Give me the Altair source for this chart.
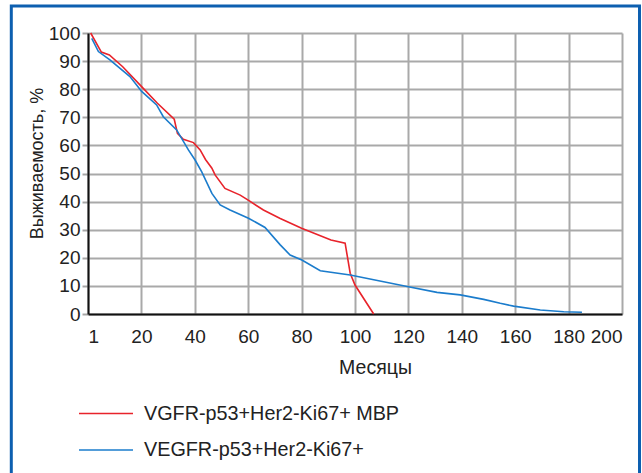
import altair as alt
import pandas as pd

# Series names
series_names = ["VGFR-p53+Her2-Ki67+ MBP", "VEGFR-p53+Her2-Ki67+"]
series_colors = ["#e8232b", "#1b7ccc"]

# Red series (months, survival %)
red_months = [1, 5, 8, 13, 20.7, 26, 32.3, 33.5, 35.7, 39.5, 42, 44, 46.4, 47.6, 51.3, 57, 60, 65.7, 72, 80, 91, 96.3, 98.2, 100, 107]
red_surv = [100, 93.2, 92.2, 88, 80.3, 75, 69.3, 64.3, 62.2, 61, 58.4, 55, 51.9, 49.5, 44.7, 42.3, 40.5, 37, 34, 30.5, 26.3, 25.2, 14.5, 10.3, 0]

# Blue series (months, survival %)
blue_months = [1.4, 3.9, 8.2, 15.7, 20.1, 25.7, 28.2, 33.2, 37.6, 40.1, 42.6, 46.4, 49.5, 53.2, 60.1, 66.3, 72, 75.7, 80.1, 87, 98.2, 120, 130.7, 139.4, 148.2, 154.4, 159.4, 169.4, 178.2, 185]
blue_surv = [98.1, 93.4, 90.4, 84.5, 79.2, 74.4, 70.2, 65.5, 58.4, 54.8, 50.6, 42.9, 38.8, 37, 34.1, 30.8, 24.6, 21, 19.2, 15.4, 13.9, 9.7, 7.7, 6.8, 5.2, 3.8, 2.8, 1.4, 0.8, 0.6]

x_ticks = list(range(0, 201, 20))
y_ticks = list(range(0, 101, 10))

FONT = "'Liberation Sans', Arial, sans-serif"

rows = []
for i, (m, v) in enumerate(zip(red_months, red_surv)):
    rows.append({"month": m, "surv": v, "series": series_names[0], "idx": i})
for i, (m, v) in enumerate(zip(blue_months, blue_surv)):
    rows.append({"month": m, "surv": v, "series": series_names[1], "idx": i})
df = pd.DataFrame(rows)

lines = alt.Chart(df).mark_line(strokeWidth=1.6).encode(
    x=alt.X(
        "month:Q",
        scale=alt.Scale(domain=[0, 200], nice=False, zero=False),
        axis=alt.Axis(
            values=x_ticks,
            labelExpr="datum.value == 0 ? '1' : datum.label",
            title="Месяцы",
            titleX=287, titleY=59, titleAlign="center", titleBaseline="alphabetic",
            ticks=False, tickSize=0, labelPadding=13,
            labelFontSize=19, titleFontSize=19.5,
        ),
    ),
    y=alt.Y(
        "surv:Q",
        scale=alt.Scale(domain=[0, 100], nice=False),
        axis=alt.Axis(
            values=y_ticks,
            title="Выживаемость, %",
            titleX=-46, titleY=163 - 33, titleAngle=270, titleAlign="center", titleBaseline="alphabetic",
            tickSize=6, tickColor="#a6a6a6", tickWidth=2, labelPadding=2,
            labelFontSize=19, titleFontSize=18,
        ),
    ),
    color=alt.Color(
        "series:N",
        scale=alt.Scale(domain=series_names, range=series_colors),
        legend=alt.Legend(
            title=None, orient="none", legendX=3.5, legendY=366, direction="vertical",
            symbolType="M-2,0H2", symbolSize=729, symbolStrokeWidth=1.6,
            labelFontSize=19.8, labelOffset=23.5, rowPadding=11.5, padding=0,
            labelColor="#222222", labelFont=FONT, labelLimit=400,
        ),
    ),
    order="idx:Q",
)

border = alt.Chart(pd.DataFrame({"a": [0]})).mark_rect(
    fillOpacity=0, stroke="#0d5fb0", strokeWidth=3
).encode(
    x=alt.value(-76.7), x2=alt.value(551.5), y=alt.value(-27), y2=alt.value(445)
)

chart = alt.layer(border, lines).properties(
    width=534,
    height=281,
    autosize=alt.AutoSizeParams(type="none"),
    padding={"left": 88, "top": 33, "right": 20, "bottom": 159},
    background="white",
).configure_view(stroke=None).configure_axis(
    labelFont=FONT, titleFont=FONT, labelColor="#222222", titleColor="#222222",
    titleFontWeight="normal", gridColor="#a9a9a9", gridWidth=2,
    domainColor="#111111", domainWidth=2,
)

chart.save("out.html", embed_options={"renderer": "svg", "actions": False})
